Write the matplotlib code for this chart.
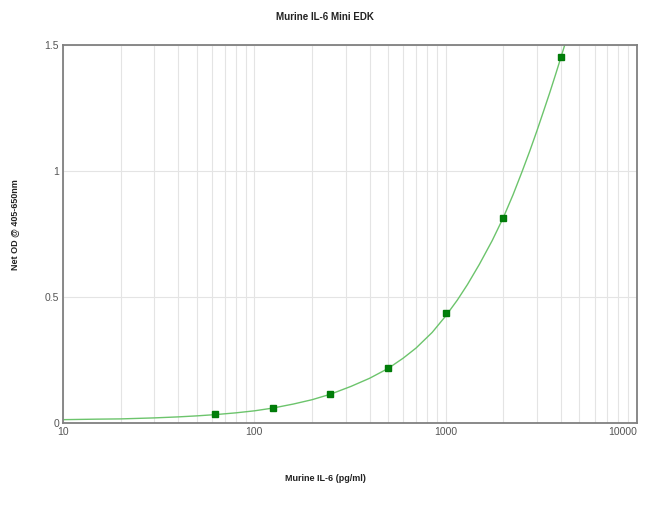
import matplotlib
matplotlib.use('Agg')
import matplotlib.pyplot as plt
from matplotlib.ticker import FixedLocator, NullFormatter

# standards (pg/ml) and measured net OD
conc = [62.5, 125, 250, 500, 1000, 2000, 4000]
od = [0.036, 0.062, 0.115, 0.217, 0.438, 0.812, 1.451]

# fitted curve
curve_x = [10, 15, 20, 30, 40, 50, 62.5, 80, 100, 125, 160, 200, 250, 320, 400,
           500, 600, 700, 850, 1000, 1150, 1300, 1500, 1750, 2000, 2250, 2500,
           2750, 3000, 3250, 3500, 3750, 4000, 4250, 4450]
curve_y = [0.014, 0.016, 0.017, 0.021, 0.025, 0.029, 0.034, 0.041, 0.049, 0.060, 0.076,
           0.093, 0.115, 0.146, 0.178, 0.217, 0.258, 0.298, 0.360, 0.425, 0.488, 0.550,
           0.630, 0.724, 0.815, 0.906, 0.995, 1.079, 1.160, 1.238, 1.311, 1.382,
           1.450, 1.515, 1.565]

xticks = [10, 100, 1000, 10000]
xtick_labels = ['10', '100', '1000', '10000']
yticks = [0, 0.5, 1, 1.5]
ytick_labels = ['0', '0.5', '1', '1.5']

plt.rcParams['font.family'] = ['Liberation Sans', 'DejaVu Sans']

fig = plt.figure(figsize=(6.5, 5.05), dpi=100)
ax = fig.add_axes([0.097, 0.162, 0.883, 0.749])

ax.plot(curve_x, curve_y, color='#6cc46c', linewidth=1.0, zorder=2, clip_on=True)
ax.plot(conc, od, linestyle='none', marker='s', markersize=5, color='#00800a',
        markeredgecolor='#007a08', zorder=3)

ax.set_xscale('log')
ax.set_xlim(10, 10000)
ax.set_ylim(0, 1.5)

minor = [m * d for d in (10, 100, 1000) for m in range(2, 10)]
ax.xaxis.set_minor_locator(FixedLocator(minor))
ax.xaxis.set_minor_formatter(NullFormatter())
ax.set_xticks(xticks)
ax.set_xticklabels(xtick_labels)
ax.set_yticks(yticks)
ax.set_yticklabels(ytick_labels)
# last label sits inside the figure, as in the original
ax.get_xticklabels()[-1].set_horizontalalignment('right')

ax.grid(True, which='both', axis='x', color='#e4e4e4', linewidth=0.8, zorder=0)
ax.grid(True, which='major', axis='y', color='#e4e4e4', linewidth=0.8, zorder=0)
ax.set_axisbelow(True)

ax.tick_params(which='both', length=0, labelsize=7.5, labelcolor='#555555', pad=3)
for s in ax.spines.values():
    s.set_color('#808080')
    s.set_linewidth(1.3)

fig.text(0.5, 0.966, 'Murine IL-6 Mini EDK', ha='center', va='center',
         fontsize=7, fontweight='bold', color='#222222')
fig.text(0.5, 0.053, 'Murine IL-6 (pg/ml)', ha='center', va='center',
         fontsize=6.5, fontweight='bold', color='#222222')
fig.text(0.023, 0.555, 'Net OD @ 405-650nm', ha='center', va='center',
         rotation=90, fontsize=6.5, fontweight='bold', color='#222222')

fig.savefig('out.png', dpi=100)
